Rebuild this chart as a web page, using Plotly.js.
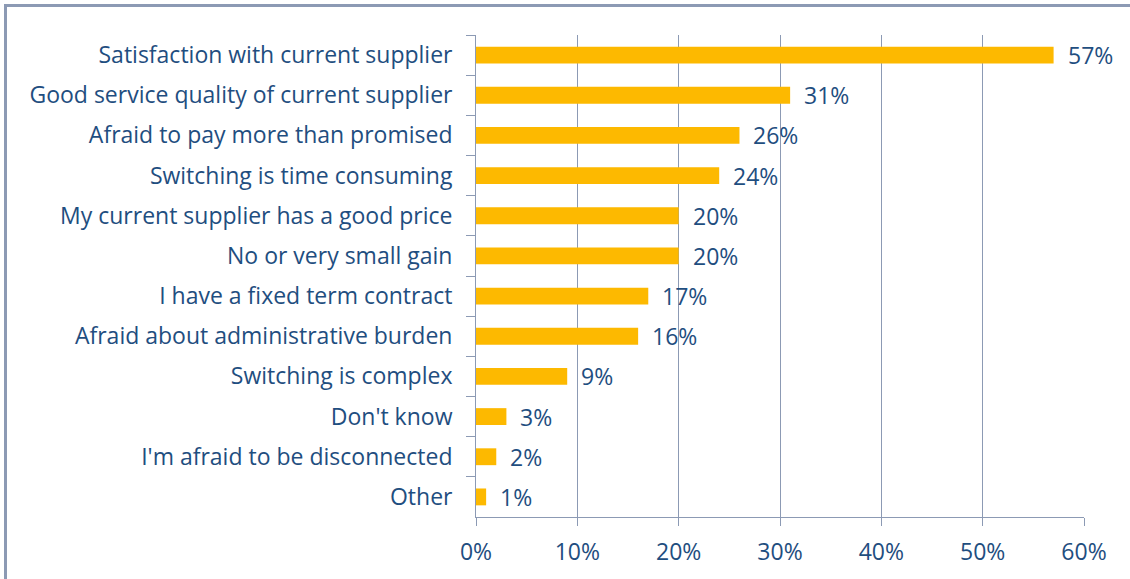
<!DOCTYPE html>
<html>
<head>
<meta charset="utf-8">
<script src="https://cdn.plot.ly/plotly-3.0.1.min.js"></script>
<style>
  html, body { margin: 0; padding: 0; background: #fff; }
  #frame { position: absolute; left: 4px; top: 4px; width: 1140px; height: 600px;
           border-left: 3px solid #8C9AB4; border-top: 3px solid #8C9AB4; }
  #chart { position: absolute; left: 0; top: 0; width: 1130px; height: 579px; }
</style>
</head>
<body>
<div id="frame"></div>
<div id="chart"></div>
<script>
const categories = [
  "Satisfaction with current supplier",
  "Good service quality of current supplier",
  "Afraid to pay more than promised",
  "Switching is time consuming",
  "My current supplier has a good price",
  "No or very small gain",
  "I have a fixed term contract",
  "Afraid about administrative burden",
  "Switching is complex",
  "Don't know",
  "I'm afraid to be disconnected",
  "Other"
];
const values = [57, 31, 26, 24, 20, 20, 17, 16, 9, 3, 2, 1];
const valueLabels = values.map(v => v + "%");
const xTickVals = [0, 10, 20, 30, 40, 50, 60];
const xTickText = ["0%", "10%", "20%", "30%", "40%", "50%", "60%"];

const textColor = "#1F4E80";
const gridColor = "#8C9AB4";
const fontFamily = "Open Sans, sans-serif";
const fontSize = 23;

const trace = {
  type: "bar",
  orientation: "h",
  y: categories,
  x: values,
  marker: { color: "#FDB900" },
  width: 0.42,
  hoverinfo: "skip"
};

const annotations = values.map((v, i) => ({
  x: v, y: categories[i], xref: "x", yref: "y",
  text: valueLabels[i], showarrow: false,
  xanchor: "left", yanchor: "middle", xshift: 12, yshift: 0,
  font: { family: fontFamily, size: fontSize, color: textColor }
}));

const layout = {
  width: 1130, height: 579,
  margin: { l: 476, r: 46, t: 35, b: 62 },
  paper_bgcolor: "rgba(0,0,0,0)",
  plot_bgcolor: "rgba(0,0,0,0)",
  showlegend: false,
  xaxis: {
    range: [0, 60],
    tickvals: xTickVals,
    ticktext: xTickText,
    showgrid: true, gridcolor: gridColor, gridwidth: 1,
    zeroline: false,
    showline: true, linecolor: gridColor, linewidth: 1,
    ticks: "outside", ticklen: 8, tickcolor: gridColor,
    ticklabelstandoff: 6,
    tickfont: { family: fontFamily, size: fontSize, color: textColor },
    fixedrange: true
  },
  yaxis: {
    type: "category",
    autorange: "reversed",
    showgrid: false, zeroline: false,
    showline: true, linecolor: gridColor, linewidth: 1,
    ticks: "outside", ticklen: 9, tickcolor: gridColor,
    tickson: "boundaries",
    ticksuffix: "   ",
    tickfont: { family: fontFamily, size: fontSize, color: textColor },
    fixedrange: true
  },
  annotations: annotations
};

Plotly.newPlot("chart", [trace], layout, { displayModeBar: false, staticPlot: true });
</script>
</body>
</html>
